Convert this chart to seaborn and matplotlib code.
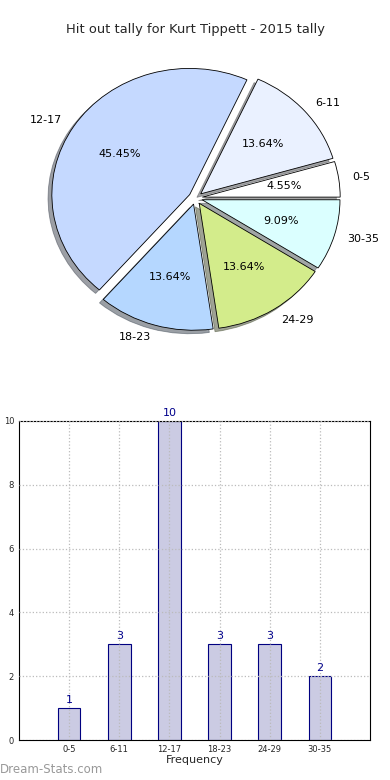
import numpy as np
import pandas as pd
import seaborn as sns
import matplotlib
matplotlib.use("Agg")
import matplotlib.pyplot as plt

ranges = ['0-5', '6-11', '12-17', '18-23', '24-29', '30-35']
counts = [1, 3, 10, 3, 3, 2]
slice_colors = ['#ffffff', '#eaf1ff', '#c5d9ff', '#b5d7ff', '#d3ec8b', '#dbffff']
title = 'Hit out tally for Kurt Tippett - 2015 tally'

sns.set_style("white")
plt.rcParams['font.family'] = ['DejaVu Sans']

fig = plt.figure(figsize=(3.9, 7.8), dpi=100)

# pie on top (stretched, no equal aspect like the original)
ax1 = fig.add_axes([48 / 390, 1 - 333 / 780, 295 / 390, 270 / 780])
ax1.pie(counts, labels=ranges, colors=slice_colors, autopct='%1.2f%%',
        explode=[0.05] * len(counts), shadow=True, startangle=0,
        wedgeprops=dict(edgecolor='black', linewidth=0.6),
        textprops=dict(fontsize=8, color='black'))
ax1.set_xlim(-1.07, 1.07)
ax1.set_ylim(-1.07, 1.07)
ax1.set_aspect('auto')
fig.text(0.5, 1 - 30 / 780, title, ha='center', va='center', fontsize=9.4)

# bar chart below
df = pd.DataFrame({'range': ranges, 'count': counts})
ax2 = fig.add_axes([19 / 390, 40 / 780, 351 / 390, 319 / 780])
sns.barplot(data=df, x='range', y='count', ax=ax2, width=0.45,
            color='#cbcbe3', edgecolor='navy', linewidth=0.8, saturation=1)
for i, c in enumerate(counts):
    ax2.text(i, c + 0.1, str(c), ha='center', va='bottom', fontsize=8, color='darkblue')
ax2.set_xlim(-1, 6)
ax2.set_ylim(0, 10)
ax2.set_yticks([0, 2, 4, 6, 8, 10])
ax2.grid(True, linestyle=':', color='#bbbbbb', linewidth=0.9)
ax2.set_axisbelow(False)
for s in ax2.spines.values():
    s.set_color('black')
    s.set_linewidth(0.8)
ax2.tick_params(axis='both', labelsize=6, direction='in', length=3, color='#888888')
ax2.set_xlabel('Frequency', fontsize=8, labelpad=1)
ax2.set_ylabel('Total Hit Out Tally', fontsize=7, labelpad=4)

fig.text(0.0, 4 / 780, 'Dream-Stats.com', fontsize=8.5, color='#999999',
         ha='left', va='bottom')

fig.savefig('out.png', dpi=100)
